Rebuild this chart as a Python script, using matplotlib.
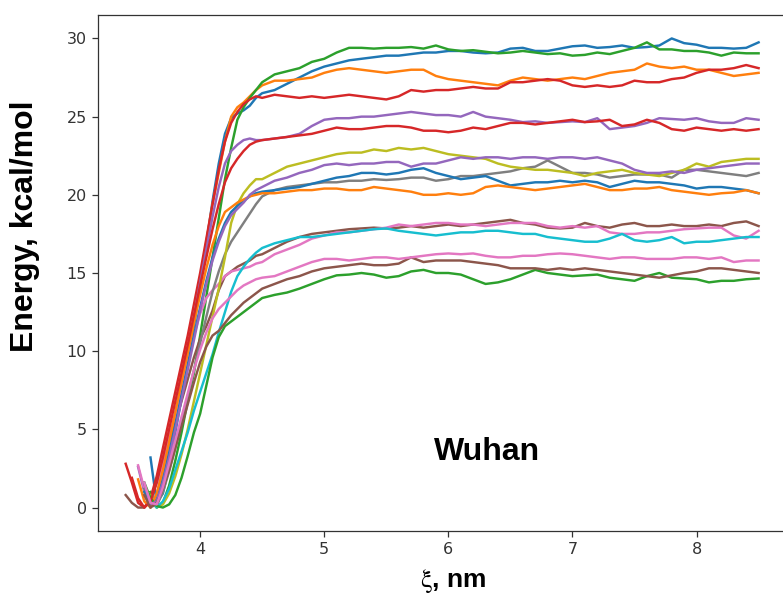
import numpy as np
import matplotlib
matplotlib.use("Agg")
import matplotlib.pyplot as plt

# xi grid: fine steps over the steep rise, coarser over the plateau
xi = [3.40, 3.45, 3.50, 3.55, 3.60, 3.65, 3.70, 3.75, 3.80, 3.85, 3.90, 3.95,
      4.00, 4.05, 4.10, 4.15, 4.20, 4.25, 4.30, 4.35, 4.40, 4.45, 4.50,
      4.6, 4.7, 4.8, 4.9, 5.0, 5.1, 5.2, 5.3, 5.4, 5.5,
      5.6, 5.7, 5.8, 5.9, 6.0, 6.1, 6.2, 6.3, 6.4, 6.5,
      6.6, 6.7, 6.8, 6.9, 7.0, 7.1, 7.2, 7.3, 7.4, 7.5,
      7.6, 7.7, 7.8, 7.9, 8.0, 8.1, 8.2, 8.3, 8.4, 8.5]

# energy curves, kcal/mol (None = run not started yet)
blue_a = [None, None, None, None, 3.2, 0.3, 0.9, 2.6, 4.8, 7.0, 9.2, 11.6,
          14.2, 16.9, 19.6, 22.0, 23.9, 24.9, 25.2, 25.4, 25.7, 26.2, 26.5,
          26.7, 27.1, 27.5, 27.9, 28.2, 28.4, 28.6, 28.7, 28.8, 28.9,
          28.9, 29.0, 29.1, 29.1, 29.2, 29.2, 29.1, 29.05, 29.1, 29.35,
          29.4, 29.2, 29.2, 29.35, 29.5, 29.55, 29.4, 29.45, 29.55, 29.4,
          29.45, 29.55, 30.0, 29.7, 29.6, 29.4, 29.4, 29.35, 29.4, 29.75]
orange_a = [None, None, None, 1.4, 0.2, 0.3, 1.5, 3.2, 5.2, 7.4, 9.6, 12.0,
            14.5, 17.0, 19.4, 21.4, 23.4, 25.0, 25.6, 25.9, 26.3, 26.7, 27.0,
            27.3, 27.3, 27.4, 27.5, 27.8, 28.0, 28.1, 28.0, 27.9, 27.8,
            27.9, 28.0, 28.0, 27.6, 27.4, 27.3, 27.2, 27.1, 27.0, 27.3,
            27.5, 27.4, 27.3, 27.4, 27.5, 27.4, 27.6, 27.8, 27.9, 28.0,
            28.4, 28.2, 28.1, 28.2, 28.0, 28.0, 27.8, 27.6, 27.7, 27.8]
green_a = [None, None, None, None, 1.0, 0.0, 0.3, 1.4, 3.0, 4.8, 6.8, 8.6,
           11.0, 13.5, 16.0, 18.5, 21.0, 23.0, 24.8, 25.6, 26.2, 26.7, 27.2,
           27.7, 27.9, 28.1, 28.5, 28.7, 29.1, 29.4, 29.4, 29.35, 29.4,
           29.4, 29.45, 29.35, 29.55, 29.3, 29.2, 29.25, 29.15, 29.05, 29.1,
           29.2, 29.1, 29.0, 29.05, 28.9, 28.95, 29.1, 29.0, 29.2, 29.4,
           29.75, 29.3, 29.3, 29.2, 29.2, 29.1, 28.9, 29.1, 29.05, 29.05]
red_a = [2.8, 1.6, 0.3, 0.0, 0.6, 2.0, 3.8, 5.6, 7.4, 9.2, 11.0, 13.0,
         15.0, 17.2, 19.4, 21.6, 23.4, 24.6, 25.3, 25.8, 26.1, 26.3, 26.2,
         26.4, 26.3, 26.2, 26.3, 26.2, 26.3, 26.4, 26.3, 26.2, 26.1,
         26.3, 26.7, 26.6, 26.7, 26.7, 26.8, 26.9, 26.8, 26.8, 27.2,
         27.2, 27.3, 27.4, 27.3, 27.0, 26.9, 27.0, 26.9, 27.0, 27.3,
         27.2, 27.2, 27.4, 27.5, 27.8, 28.0, 28.0, 28.1, 28.3, 28.1]
purple_a = [None, None, 2.6, 1.0, 0.1, 0.6, 2.2, 4.0, 6.0, 8.0, 10.1, 12.2,
            14.4, 16.5, 18.6, 20.5, 22.0, 22.8, 23.2, 23.5, 23.6, 23.5, 23.5,
            23.6, 23.7, 23.9, 24.4, 24.8, 24.9, 24.9, 25.0, 25.0, 25.1,
            25.2, 25.3, 25.2, 25.1, 25.1, 25.0, 25.3, 25.0, 24.9, 24.8,
            24.65, 24.7, 24.6, 24.65, 24.7, 24.65, 24.9, 24.2, 24.3, 24.4,
            24.6, 24.9, 24.85, 24.8, 24.9, 24.7, 24.6, 24.6, 24.9, 24.8]
brown_a = [0.8, 0.3, 0.0, 0.0, 0.4, 1.6, 3.0, 4.2, 5.4, 6.8, 8.2, 9.6,
           10.8, 11.6, 12.6, 13.9, 14.8, 15.1, 15.4, 15.6, 15.8, 16.1, 16.2,
           16.6, 17.0, 17.3, 17.5, 17.6, 17.7, 17.8, 17.85, 17.9, 17.85,
           17.9, 18.0, 17.9, 18.0, 18.1, 18.0, 18.1, 18.2, 18.3, 18.4,
           18.2, 18.1, 17.9, 17.85, 17.9, 18.2, 18.0, 17.9, 18.1, 18.2,
           18.0, 18.0, 18.1, 18.0, 18.0, 18.1, 18.0, 18.2, 18.3, 18.0]
pink_a = [None, None, 2.7, 1.2, 0.2, 0.8, 2.8, 4.5, 6.0, 7.6, 9.3, 11.0,
          12.4, 13.4, 13.9, 14.3, 14.8, 15.1, 15.2, 15.3, 15.4, 15.6, 15.7,
          16.2, 16.5, 16.8, 17.2, 17.4, 17.6, 17.6, 17.7, 17.8, 17.9,
          18.1, 18.0, 18.1, 18.2, 18.2, 18.1, 18.1, 18.0, 18.1, 18.2,
          18.2, 18.2, 18.0, 17.9, 18.0, 17.9, 18.0, 17.6, 17.5, 17.5,
          17.6, 17.6, 17.7, 17.8, 17.85, 17.9, 17.9, 17.4, 17.2, 17.7]
gray_a = [None, None, None, 1.2, 0.1, 0.1, 1.0, 2.3, 3.8, 5.4, 7.1, 8.8,
          10.5, 12.2, 13.8, 15.1, 16.2, 17.0, 17.6, 18.2, 18.8, 19.4, 19.9,
          20.3, 20.5, 20.6, 20.7, 20.8, 20.8, 20.9, 20.9, 21.0, 20.95,
          21.0, 21.1, 21.1, 20.9, 21.0, 21.2, 21.2, 21.3, 21.4, 21.5,
          21.7, 21.8, 22.2, 21.8, 21.4, 21.4, 21.3, 21.1, 21.2, 21.3,
          21.3, 21.3, 21.1, 21.6, 21.6, 21.5, 21.4, 21.3, 21.2, 21.4]
olive_a = [None, None, None, None, 0.8, 0.0, 0.2, 0.9, 2.0, 3.4, 5.0, 6.8,
           8.6, 10.4, 12.2, 14.0, 16.0, 18.2, 19.4, 20.1, 20.6, 21.0, 21.0,
           21.4, 21.8, 22.0, 22.2, 22.4, 22.6, 22.7, 22.7, 22.9, 22.8,
           23.0, 22.9, 23.0, 22.8, 22.6, 22.5, 22.4, 22.3, 22.0, 21.8,
           21.7, 21.6, 21.6, 21.5, 21.4, 21.2, 21.4, 21.5, 21.6, 21.4,
           21.3, 21.2, 21.4, 21.6, 22.0, 21.8, 22.1, 22.2, 22.3, 22.3]
cyan_a = [None, None, None, None, 0.6, 0.0, 0.4, 1.2, 2.4, 3.6, 4.8, 6.2,
          7.4, 8.6, 9.8, 11.2, 12.5, 13.8, 14.8, 15.4, 15.9, 16.3, 16.6,
          16.9, 17.1, 17.3, 17.3, 17.4, 17.5, 17.6, 17.7, 17.8, 17.85,
          17.7, 17.6, 17.5, 17.4, 17.5, 17.6, 17.6, 17.7, 17.7, 17.6,
          17.5, 17.5, 17.3, 17.2, 17.1, 17.0, 17.0, 17.2, 17.5, 17.1,
          17.0, 17.1, 17.3, 16.9, 17.0, 17.0, 17.1, 17.2, 17.3, 17.3]
blue_b = [None, None, None, 1.0, 0.0, 0.5, 1.8, 3.5, 5.3, 7.2, 9.1, 11.0,
          12.8, 14.5, 16.0, 17.2, 18.2, 18.9, 19.3, 19.6, 19.9, 20.1, 20.2,
          20.3, 20.4, 20.5, 20.7, 20.9, 21.1, 21.2, 21.4, 21.4, 21.3,
          21.4, 21.6, 21.7, 21.4, 21.2, 21.0, 21.1, 21.2, 20.9, 20.6,
          20.7, 20.8, 20.8, 20.9, 20.8, 20.9, 20.8, 20.5, 20.7, 20.9,
          20.8, 20.8, 20.7, 20.6, 20.4, 20.5, 20.5, 20.4, 20.3, 20.1]
orange_b = [None, None, 1.8, 0.4, 0.0, 0.9, 2.4, 4.2, 6.1, 8.0, 9.9, 11.8,
            13.6, 15.3, 16.8, 18.0, 18.9, 19.2, 19.5, 19.7, 19.9, 20.0, 20.1,
            20.1, 20.2, 20.3, 20.3, 20.4, 20.4, 20.3, 20.3, 20.5, 20.4,
            20.3, 20.2, 20.0, 20.0, 20.1, 20.0, 20.1, 20.5, 20.6, 20.5,
            20.4, 20.3, 20.4, 20.5, 20.6, 20.7, 20.5, 20.3, 20.3, 20.4,
            20.4, 20.5, 20.3, 20.2, 20.1, 20.0, 20.1, 20.15, 20.3, 20.1]
green_b = [None, None, None, 1.6, 0.6, 0.1, 0.0, 0.2, 0.8, 1.9, 3.3, 4.8,
           6.0, 7.8, 9.6, 10.9, 11.6, 11.9, 12.2, 12.5, 12.8, 13.1, 13.4,
           13.6, 13.75, 14.0, 14.3, 14.6, 14.85, 14.9, 15.0, 14.9, 14.7,
           14.8, 15.1, 15.2, 15.0, 15.0, 14.9, 14.6, 14.3, 14.4, 14.6,
           14.9, 15.2, 15.0, 14.9, 14.8, 14.85, 14.9, 14.7, 14.6, 14.5,
           14.8, 15.0, 14.7, 14.65, 14.6, 14.4, 14.5, 14.5, 14.6, 14.65]
red_b = [None, 1.9, 0.6, 0.0, 0.4, 1.6, 3.2, 5.0, 6.8, 8.6, 10.4, 12.3,
         14.2, 16.0, 17.8, 19.4, 20.8, 21.7, 22.3, 22.8, 23.2, 23.4, 23.5,
         23.6, 23.7, 23.8, 23.9, 24.1, 24.3, 24.2, 24.2, 24.3, 24.4,
         24.4, 24.3, 24.1, 24.1, 24.0, 24.1, 24.3, 24.2, 24.4, 24.6,
         24.6, 24.5, 24.6, 24.7, 24.8, 24.65, 24.7, 24.8, 24.4, 24.5,
         24.8, 24.6, 24.2, 24.1, 24.3, 24.2, 24.1, 24.2, 24.1, 24.2]
purple_b = [None, None, None, 1.5, 0.2, 0.4, 1.6, 3.2, 5.0, 6.9, 8.8, 10.7,
            12.6, 14.3, 15.8, 17.0, 18.0, 18.7, 19.1, 19.5, 20.0, 20.3, 20.5,
            20.9, 21.1, 21.4, 21.6, 21.9, 22.0, 21.9, 22.0, 22.0, 22.1,
            22.1, 21.8, 22.0, 22.0, 22.2, 22.4, 22.3, 22.4, 22.4, 22.3,
            22.4, 22.4, 22.3, 22.4, 22.4, 22.3, 22.4, 22.2, 22.0, 21.6,
            21.4, 21.4, 21.5, 21.4, 21.6, 21.7, 21.8, 21.9, 22.0, 22.0]
brown_b = [None, None, None, 0.8, 0.0, 0.3, 1.2, 2.4, 3.8, 5.2, 6.6, 8.0,
           9.3, 10.3, 11.0, 11.3, 11.8, 12.3, 12.7, 13.1, 13.4, 13.7, 14.0,
           14.3, 14.6, 14.8, 15.1, 15.3, 15.4, 15.5, 15.6, 15.5, 15.5,
           15.6, 16.0, 15.7, 15.8, 15.8, 15.8, 15.7, 15.6, 15.5, 15.3,
           15.3, 15.3, 15.2, 15.3, 15.2, 15.3, 15.2, 15.1, 15.0, 14.9,
           14.8, 14.7, 14.85, 15.0, 15.1, 15.3, 15.3, 15.2, 15.1, 15.0]
pink_b = [None, None, None, 1.6, 0.3, 0.2, 1.3, 2.8, 4.3, 5.8, 7.3, 8.8,
          10.1, 11.2, 12.1, 12.7, 13.1, 13.5, 13.9, 14.2, 14.4, 14.6, 14.7,
          14.8, 15.1, 15.4, 15.7, 15.9, 15.9, 15.8, 15.9, 16.0, 16.0,
          15.9, 16.0, 16.1, 16.2, 16.25, 16.2, 16.25, 16.1, 16.0, 16.0,
          16.1, 16.1, 16.2, 16.25, 16.2, 16.1, 16.0, 15.9, 16.0, 16.0,
          15.9, 15.9, 15.9, 16.0, 16.0, 15.9, 16.0, 15.7, 15.8, 15.8]

# plotted in this order so the default tab10 cycle gives each run its colour
runs = [blue_a, orange_a, green_a, red_a, purple_a, brown_a, pink_a, gray_a,
        olive_a, cyan_a, blue_b, orange_b, green_b, red_b, purple_b, brown_b, pink_b]

plt.rcParams["mathtext.fontset"] = "stix"

W, H = 783, 601
fig = plt.figure(figsize=(W / 100, H / 100), dpi=100)
# right edge of the axes sits just past the image edge (original was cropped)
ax = fig.add_axes([98 / W, 70 / H, 692 / W, 516 / H])

for e in runs:
    ax.plot(xi, np.array(e, dtype=float), lw=1.75)

ax.set_xlim(3.177, 8.753)
ax.set_ylim(-1.5, 31.5)
ax.set_xticks([4, 5, 6, 7, 8])
ax.set_yticks([0, 5, 10, 15, 20, 25, 30])
ax.tick_params(labelsize=11.5, length=4.5, width=0.9, colors="#333333")
for s in ax.spines.values():
    s.set_linewidth(0.9)
    s.set_color("#333333")

ax.set_ylabel("Energy, kcal/mol", family="Liberation Sans", weight="bold",
              fontsize=23)
ax.yaxis.set_label_coords(-0.105, 0.591)
ax.yaxis.label.set_va("center")
ax.set_xlabel(r"$\mathrm{\xi}$, nm", family="Liberation Sans", weight="bold",
              fontsize=19)
ax.xaxis.set_label_coords(0.513, -0.097)
ax.xaxis.label.set_va("center")
ax.text(0.562, 0.153, "Wuhan", transform=ax.transAxes, ha="center", va="center",
        family="Liberation Sans", weight="bold", fontsize=23)

fig.savefig("out.png", dpi=100)
